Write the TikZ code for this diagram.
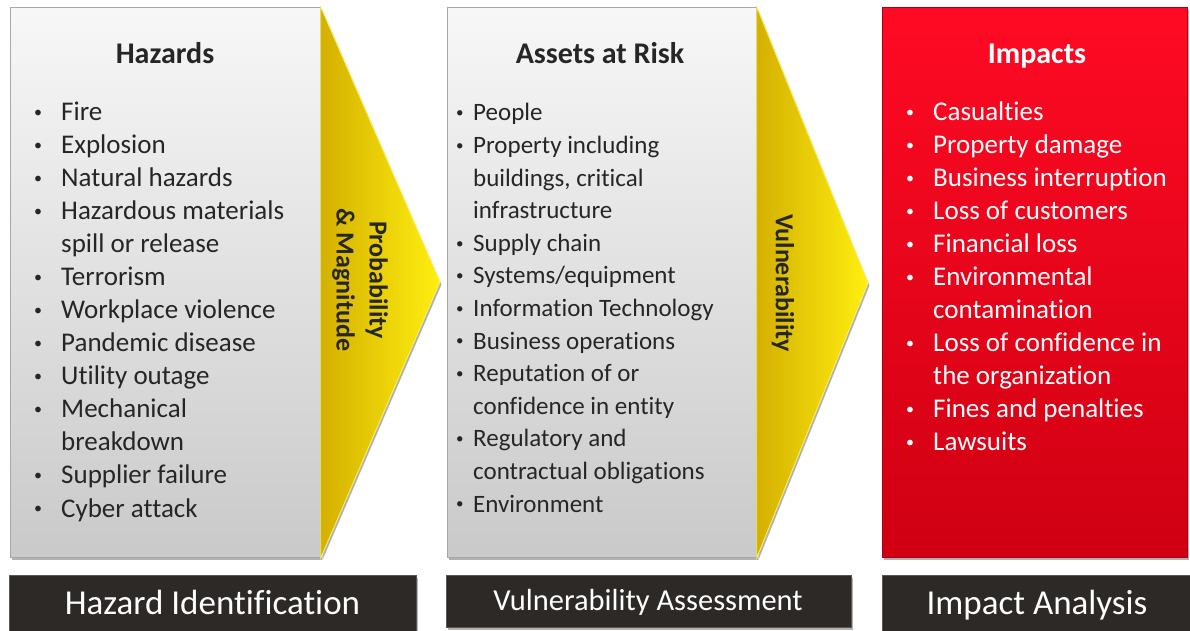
\documentclass[tikz,border=0pt]{standalone}
\usepackage{fontspec}
\setmainfont{Carlito}[Ligatures=NoCommon]
\usetikzlibrary{shadows}
\definecolor{txt}{HTML}{262626}
\definecolor{boxline}{HTML}{A8A8A8}
\definecolor{redtop}{HTML}{FF0A24}
\definecolor{redbot}{HTML}{CF0012}
\definecolor{yelL}{HTML}{D4B000}
\definecolor{yelM}{HTML}{F2D800}
\definecolor{yelR}{HTML}{FFEF10}
\definecolor{barfill}{HTML}{2D2926}
\definecolor{barline}{HTML}{5A5652}
\newcommand{\bulA}{\raisebox{3.6pt}{\fontsize{16}{16}\selectfont •}}
\newcommand{\bulB}{\raisebox{3.3pt}{\fontsize{15}{15}\selectfont •}}
\tikzset{
  softshadow/.style={drop shadow={shadow xshift=1.5pt,shadow yshift=-2.5pt,opacity=.3,fill=black}},
  graybox/.style={draw=boxline,line width=0.8pt,shading=axis,top color=white!97!black,middle color=white!91!black,bottom color=black!21,inner sep=0pt,anchor=north west,softshadow},
  redbox/.style={draw=redbot!85!black,line width=0.8pt,top color=redtop,bottom color=redbot,inner sep=0pt,anchor=north west,softshadow},
  yelarrow/.style={left color=yelL,middle color=yelM,right color=yelR,draw=yelR!70!white,line width=0.8pt,softshadow},
  darkbar/.style={fill=barfill,draw=barline,line width=0.8pt,inner sep=0pt,anchor=north west,softshadow},
  boxtitle/.style={font=\fontsize{30}{36}\selectfont\bfseries,text=txt,inner sep=0pt,anchor=base},
  listA/.style={font=\fontsize{27}{33}\selectfont,text=txt,inner sep=0pt,anchor=base west},
  listB/.style={font=\fontsize{25}{32.6}\selectfont,text=txt,inner sep=0pt,anchor=base west},
  arrowtext/.style={font=\fontsize{26}{33}\selectfont\bfseries,text=txt,inner sep=0pt,align=center,rotate=-90},
  bartext/.style={text=white,inner sep=0pt,anchor=base}
}
\begin{document}
\begin{tikzpicture}[x=1pt,y=-1pt]
\useasboundingbox (0,0) rectangle (1190,631);

% ---- main boxes
\node[graybox,minimum width=310pt,minimum height=550pt] (hazbox) at (10,7) {};
\node[graybox,minimum width=309pt,minimum height=550pt] (assbox) at (447,7) {};
\node[redbox,minimum width=305pt,minimum height=550pt] (impbox) at (882,7) {};

% ---- yellow arrow heads
\coordinate (tipA) at (440,282);
\coordinate (tipB) at (868,283);
\path[yelarrow] (hazbox.north east) -- (tipA) -- (hazbox.south east) -- cycle;
\path[yelarrow] (assbox.north east) -- (tipB) -- (assbox.south east) -- cycle;

\node[arrowtext] (pm) at (360,280) {Probability\\\& Magnitude};
\node[arrowtext] (vul) at (783,283) {Vulnerability};

% ---- titles
\node[boxtitle] (hazt) at (165,64) {Hazards};
\node[boxtitle] (asst) at (600,64) {Assets at Risk};
\node[boxtitle,text=white] (impt) at (1037,64) {Impacts};

% ---- lists
\node[listA] (hazlist) at (34,121) {\begin{tabular}[t]{@{}p{27pt}@{}l@{}}
\bulA&Fire\\
\bulA&Explosion\\
\bulA&Natural hazards\\
\bulA&Hazardous materials\\
&spill or release\\
\bulA&Terrorism\\
\bulA&Workplace violence\\
\bulA&Pandemic disease\\
\bulA&Utility outage\\
\bulA&Mechanical\\
&breakdown\\
\bulA&Supplier failure\\
\bulA&Cyber attack
\end{tabular}};

\node[listB] (asslist) at (456,121) {\begin{tabular}[t]{@{}p{17pt}@{}l@{}}
\bulB&People\\
\bulB&Property including\\
&buildings, critical\\
&infrastructure\\
\bulB&Supply chain\\
\bulB&Systems/equipment\\
\bulB&Information Technology\\
\bulB&Business operations\\
\bulB&Reputation of or\\
&confidence in entity\\
\bulB&Regulatory and\\
&contractual obligations\\
\bulB&Environment
\end{tabular}};

\node[listA,text=white] (implist) at (906,121) {\begin{tabular}[t]{@{}p{27pt}@{}l@{}}
\bulA&Casualties\\
\bulA&Property damage\\
\bulA&Business interruption\\
\bulA&Loss of customers\\
\bulA&Financial loss\\
\bulA&Environmental\\
&contamination\\
\bulA&Loss of confidence in\\
&the organization\\
\bulA&Fines and penalties\\
\bulA&Lawsuits
\end{tabular}};

% ---- bottom bars
\node[darkbar,minimum width=407pt,minimum height=58pt] (hazbar) at (9,575) {};
\node[darkbar,minimum width=405pt,minimum height=52pt] (assbar) at (446,575) {};
\node[darkbar,minimum width=310pt,minimum height=58pt] (impbar) at (882,575) {};

\node[bartext,font=\fontsize{35}{40}\selectfont] (hazbt) at (212.5,614) {Hazard Identification};
\node[bartext,font=\fontsize{30.5}{36}\selectfont] (assbt) at (648,610) {Vulnerability Assessment};
\node[bartext,font=\fontsize{35}{40}\selectfont] (impbt) at (1037,614) {Impact Analysis};
\end{tikzpicture}
\end{document}
